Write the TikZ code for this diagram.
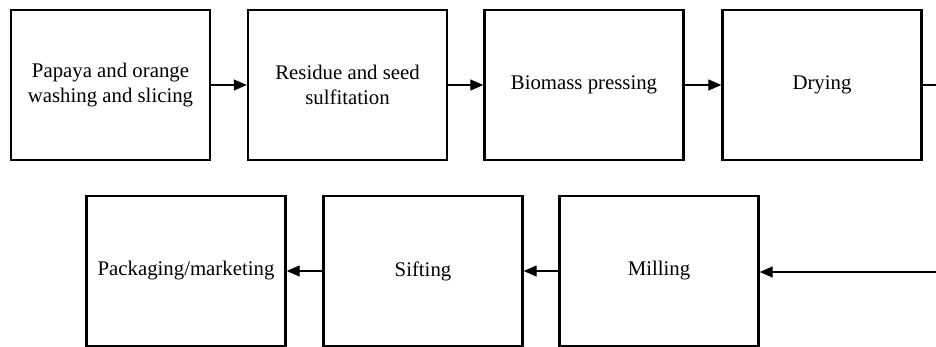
\documentclass[tikz,border=0pt]{standalone}
\usepackage{fontspec}
\setmainfont{Liberation Serif}
\usetikzlibrary{arrows.meta}
\begin{document}
\begin{tikzpicture}[x=1pt, y=-1pt]
        \tikzstyle{stage}=[draw, line width=2.4pt, fill=white,
            minimum width=199pt, minimum height=150pt, inner sep=2pt,
            align=center, font=\fontsize{20.8}{25}\selectfont]
        \tikzstyle{flow}=[line width=1.3pt, -{Triangle[length=13pt, width=11pt]}]
        \useasboundingbox (0, 0) rectangle (936, 347);

        \node[stage] (wash) at (110.5, 85) {Papaya and orange\\washing and slicing};
        \node[stage] (sulf) at (347.5, 85) {Residue and seed\\sulfitation};
        \node[stage] (press) at (584, 85) {Biomass pressing};
        \node[stage] (dry) at (822, 85) {Drying};
        \node[stage] (pack) at (186, 271) {Packaging/marketing};
        \node[stage] (sift) at (423, 271) {Sifting};
        \node[stage] (mill) at (659, 271) {Milling};
        \coordinate (dryout) at (940, 85);
        \coordinate (millin) at (940, 272);

        \draw[flow] (wash) to (sulf);
        \draw[flow] (sulf) to (press);
        \draw[flow] (press) to (dry);
        \draw[line width=1.3pt] (dry) to (dryout);
        \draw[flow] (millin) to (mill.east |- millin);
        \draw[flow] (mill) to (sift);
        \draw[flow] (sift) to (pack);

    \end{tikzpicture}
\end{document}
